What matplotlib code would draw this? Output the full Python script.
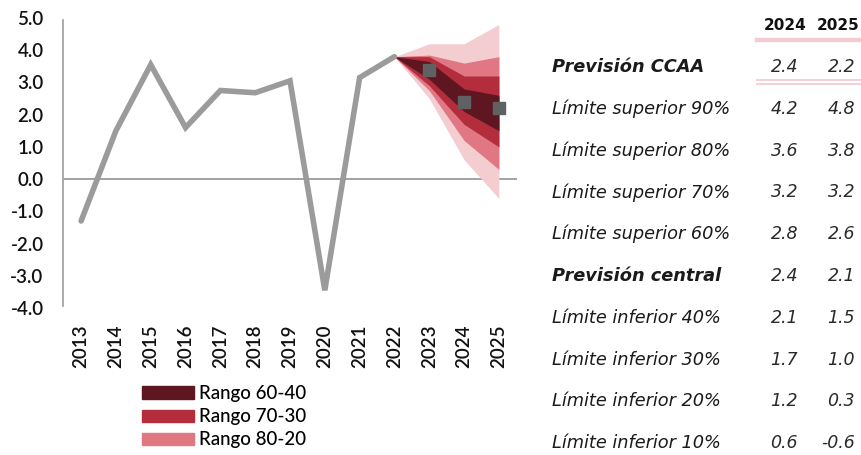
import matplotlib
matplotlib.use("Agg")
import matplotlib.pyplot as plt
from matplotlib.patches import Patch
from matplotlib.lines import Line2D

W, H = 862, 455

# historical series
years = [2013, 2014, 2015, 2016, 2017, 2018, 2019, 2020, 2021, 2022]
growth = [-1.3, 1.5, 3.55, 1.6, 2.75, 2.68, 3.05, -3.45, 3.15, 3.8]

# fan chart (starts at last observed value)
fan_years = [2022, 2023, 2024, 2025]
sup90 = [3.8, 4.2, 4.2, 4.8]
sup80 = [3.8, 3.85, 3.6, 3.8]
sup70 = [3.8, 3.8, 3.2, 3.2]
sup60 = [3.8, 3.65, 2.8, 2.6]
inf40 = [3.8, 3.1, 2.1, 1.5]
inf30 = [3.8, 2.9, 1.7, 1.0]
inf20 = [3.8, 2.75, 1.2, 0.3]
inf10 = [3.8, 2.5, 0.6, -0.6]

# regional forecast markers
ccaa_years = [2023, 2024, 2025]
ccaa = [3.4, 2.4, 2.2]

# table on the right
row_labels = ["Previsión CCAA", "Límite superior 90%", "Límite superior 80%",
              "Límite superior 70%", "Límite superior 60%", "Previsión central",
              "Límite inferior 40%", "Límite inferior 30%", "Límite inferior 20%",
              "Límite inferior 10%"]
col_2024 = ["2.4", "4.2", "3.6", "3.2", "2.8", "2.4", "2.1", "1.7", "1.2", "0.6"]
col_2025 = ["2.2", "4.8", "3.8", "3.2", "2.6", "2.1", "1.5", "1.0", "0.3", "-0.6"]
bold_rows = {"Previsión CCAA", "Previsión central"}

c_dark = "#5e1621"
c_red = "#b32d3d"
c_pink = "#e07782"
c_light = "#f4cdd1"
c_line = "#9b9b9b"

fig = plt.figure(figsize=(W / 100, H / 100), dpi=100)
ax = fig.add_axes([63 / W, 1 - 308 / H, (517 - 63) / W, (308 - 18) / H])

ax.fill_between(fan_years, inf10, sup90, color=c_light, lw=0, zorder=1)
ax.fill_between(fan_years, inf20, sup80, color=c_pink, lw=0, zorder=2)
ax.fill_between(fan_years, inf30, sup70, color=c_red, lw=0, zorder=3)
ax.fill_between(fan_years, inf40, sup60, color=c_dark, lw=0, zorder=4)

ax.axhline(0, color=c_line, lw=1.3, zorder=0)
ax.plot(years, growth, color=c_line, lw=4, solid_capstyle="round",
        solid_joinstyle="miter", zorder=5)
ax.plot(ccaa_years, ccaa, ls="none", marker="s", ms=8, color="#5f6163",
        zorder=6)

tick_font = {"family": "Lato", "size": 13.5, "weight": "semibold"}
ax.set_xlim(2012.48, 2025.52)
ax.set_ylim(-4, 5)
ax.set_xticks(range(2013, 2026))
ax.set_xticklabels([str(y) for y in range(2013, 2026)], rotation=90,
                   color="#111111", **tick_font)
ax.set_yticks(range(-4, 6))
ax.set_yticklabels([f"{v:.1f}" for v in range(-4, 6)], color="#111111",
                   **tick_font)
ax.tick_params(axis="both", length=0)
ax.tick_params(axis="y", pad=14)
ax.tick_params(axis="x", pad=12)
for s in ["top", "right", "bottom"]:
    ax.spines[s].set_visible(False)
ax.spines["left"].set_color("#a5a5a5")
ax.spines["left"].set_linewidth(1.3)
ax.spines["left"].set_bounds(-3.95, 4.95)

handles = [Patch(color=c_dark, label="Rango 60-40"),
           Patch(color=c_red, label="Rango 70-30"),
           Patch(color=c_pink, label="Rango 80-20")]
fig.legend(handles=handles, loc="upper left",
           bbox_to_anchor=(129 / W, 1 - 372 / H), frameon=False,
           prop={"family": "Lato", "size": 13.5, "weight": "medium"},
           handlelength=2.75, handleheight=0.64, labelspacing=0.33,
           handletextpad=0.28, borderpad=0.2)


def fx(px):
    return px / W


def fy(py):
    return 1 - py / H


# table header
fig.text(fx(807), fy(25), "2024", ha="right", va="center", fontsize=11,
         weight="bold", family="DejaVu Sans", color="#111111")
fig.text(fx(860), fy(25), "2025", ha="right", va="center", fontsize=11,
         weight="bold", family="DejaVu Sans", color="#111111")
fig.add_artist(Line2D([fx(757), fx(862)], [fy(40), fy(40)], color=c_light,
                      lw=3.2))
fig.add_artist(Line2D([fx(757), fx(862)], [fy(79.5), fy(79.5)],
                      color=c_light, lw=1.3))
fig.add_artist(Line2D([fx(757), fx(862)], [fy(83.5), fy(83.5)],
                      color=c_light, lw=1.3))

row_y0, row_dy = 67, 41.8
for i, (lab, a, b) in enumerate(zip(row_labels, col_2024, col_2025)):
    y = fy(row_y0 + i * row_dy)
    wt = "bold" if lab in bold_rows else "normal"
    fig.text(fx(552), y, lab, ha="left", va="center", fontsize=12.8,
             style="italic", weight=wt, family="DejaVu Sans", color="#1a1a1a")
    fig.text(fx(798), y, a, ha="right", va="center", fontsize=12.5,
             style="italic", family="DejaVu Sans", color="#2a2a2a")
    fig.text(fx(855), y, b, ha="right", va="center", fontsize=12.5,
             style="italic", family="DejaVu Sans", color="#2a2a2a")

fig.savefig("out.png", dpi=100)
